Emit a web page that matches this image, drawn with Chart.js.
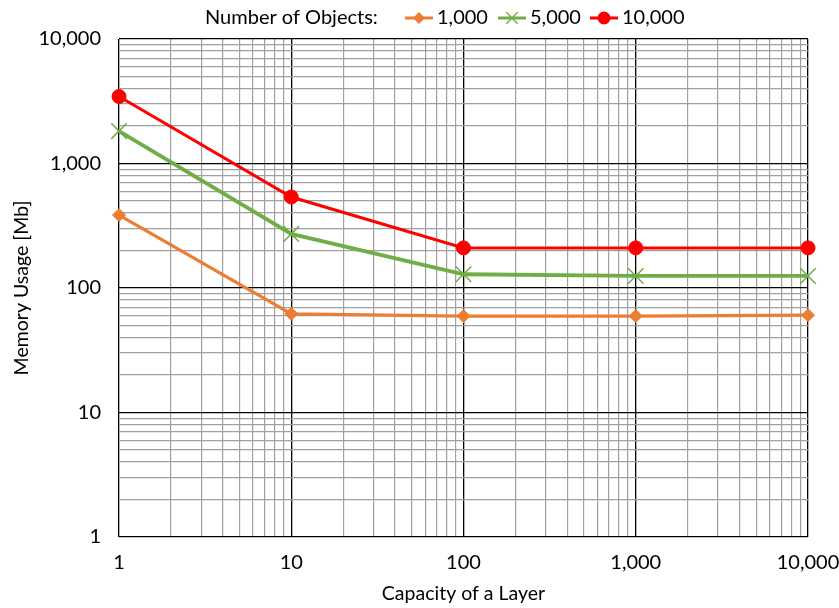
<!DOCTYPE html>
<html>
<head>
<meta charset="utf-8">
<script src="https://cdn.jsdelivr.net/npm/chart.js@4.4.1/dist/chart.umd.min.js"></script>
<style>
  html, body { margin: 0; padding: 0; background: #fff; }
  #wrap { width: 839px; height: 608px; position: relative; }
</style>
</head>
<body>
<div id="wrap"><canvas id="c" width="839" height="608"></canvas></div>
<script>
// ---- data ----
const capacities = [1, 10, 100, 1000, 10000];
const seriesNames = ['1,000', '5,000', '10,000'];
const objects1000 = [385, 62, 59.5, 59.5, 60.5];
const objects5000 = [1820, 272, 129, 125, 125];
const objects10000 = [3450, 538, 210, 210, 210];
const majorTicks = [1, 10, 100, 1000, 10000];
const legendTitle = 'Number of Objects:';
const xTitle = 'Capacity of a Layer';
const yTitle = 'Memory Usage [Mb]';

const FONT = 'Lato, "Liberation Sans", sans-serif';
const toPts = arr => arr.map((v, i) => ({ x: capacities[i], y: v }));

function allLogTicks() {
  const t = [];
  for (let d = 1; d < 10000; d *= 10) for (let m = 1; m < 10; m++) t.push(m * d);
  t.push(10000);
  return t.map(v => ({ value: v, major: majorTicks.includes(v) }));
}
const fmt = v => majorTicks.includes(v) ? Number(v).toLocaleString('en-US') : '';

const gridColor = ctx => (ctx.tick && majorTicks.includes(ctx.tick.value)) ? '#000000' : '#a0a0a0';
const gridWidth = ctx => (ctx.tick && majorTicks.includes(ctx.tick.value)) ? 1.3 : 1.2;

const legendPlugin = {
  id: 'customLegend',
  afterDraw(chart) {
    const ctx = chart.ctx;
    ctx.save();
    ctx.font = '20px ' + FONT;
    ctx.fillStyle = '#000';
    ctx.textBaseline = 'middle';
    const y = 18;
    ctx.fillText(legendTitle, 205, y);
    const starts = [405, 498, 590];
    chart.data.datasets.forEach((ds, i) => {
      const x0 = starts[i];
      ctx.strokeStyle = ds.borderColor;
      ctx.lineWidth = 3;
      ctx.beginPath(); ctx.moveTo(x0, y); ctx.lineTo(x0 + 28, y); ctx.stroke();
      const cx = x0 + 14;
      const r = i === 0 ? 6 : (i === 1 ? 8 : 6.5);
      ctx.fillStyle = ds.pointBackgroundColor;
      ctx.strokeStyle = ds.pointBorderColor;
      ctx.lineWidth = i === 1 ? 1.5 : 1;
      ctx.beginPath();
      if (i === 0) {
        ctx.moveTo(cx, y - r); ctx.lineTo(cx + r, y); ctx.lineTo(cx, y + r); ctx.lineTo(cx - r, y); ctx.closePath();
        ctx.fill();
      } else if (i === 1) {
        const k = r * 0.7071;
        ctx.moveTo(cx - k, y - k); ctx.lineTo(cx + k, y + k);
        ctx.moveTo(cx + k, y - k); ctx.lineTo(cx - k, y + k);
        ctx.stroke();
      } else {
        ctx.arc(cx, y, r, 0, Math.PI * 2); ctx.fill();
      }
      ctx.fillStyle = '#000';
      ctx.fillText(ds.label, x0 + 32, y);
    });
    ctx.restore();
  }
};

new Chart(document.getElementById('c'), {
  type: 'line',
  data: {
    datasets: [
      { label: seriesNames[0], data: toPts(objects1000), borderColor: '#ED7D31', backgroundColor: '#ED7D31',
        pointBackgroundColor: '#ED7D31', pointBorderColor: '#ED7D31', pointStyle: 'rectRot', pointRadius: 6.5,
        borderWidth: 3.2, pointBorderWidth: 1, clip: false },
      { label: seriesNames[1], data: toPts(objects5000), borderColor: '#70AD47', backgroundColor: '#70AD47',
        pointBackgroundColor: '#70AD47', pointBorderColor: '#70AD47', pointStyle: 'crossRot', pointRadius: 11,
        borderWidth: 3.8, pointBorderWidth: 1.5, clip: false },
      { label: seriesNames[2], data: toPts(objects10000), borderColor: '#FF0000', backgroundColor: '#FF0000',
        pointBackgroundColor: '#FF0000', pointBorderColor: '#FF0000', pointStyle: 'circle', pointRadius: 7,
        borderWidth: 3, pointBorderWidth: 1, clip: false }
    ]
  },
  options: {
    responsive: false,
    animation: false,
    devicePixelRatio: 1,
    layout: { padding: { top: 39, right: 31, left: 0, bottom: 0 } },
    plugins: { legend: { display: false }, tooltip: { enabled: false } },
    scales: {
      x: {
        type: 'logarithmic', min: 1, max: 10000,
        afterBuildTicks: s => { s.ticks = allLogTicks(); },
        afterFit: s => { s.height = 608 - 537; s.paddingLeft = 0; s.paddingRight = 0; },
        ticks: { callback: fmt, autoSkip: false, maxRotation: 0, padding: 14, color: '#000', font: { family: FONT, size: 20 } },
        grid: { color: gridColor, lineWidth: gridWidth, drawTicks: false },
        border: { display: false },
        title: { display: true, text: xTitle, color: '#000', font: { family: FONT, size: 19.5 }, padding: { top: 4, bottom: 3 } }
      },
      y: {
        type: 'logarithmic', min: 1, max: 10000,
        afterBuildTicks: s => { s.ticks = allLogTicks(); },
        afterFit: s => { s.width = 119; s.paddingTop = 0; s.paddingBottom = 0; },
        ticks: { callback: fmt, autoSkip: false, padding: 18, color: '#000', font: { family: FONT, size: 20 } },
        grid: { color: gridColor, lineWidth: gridWidth, drawTicks: false },
        border: { display: false },
        title: { display: true, text: yTitle, color: '#000', font: { family: FONT, size: 19.5 }, padding: { top: 10, bottom: 4 } }
      }
    }
  },
  plugins: [legendPlugin]
});
</script>
</body>
</html>
